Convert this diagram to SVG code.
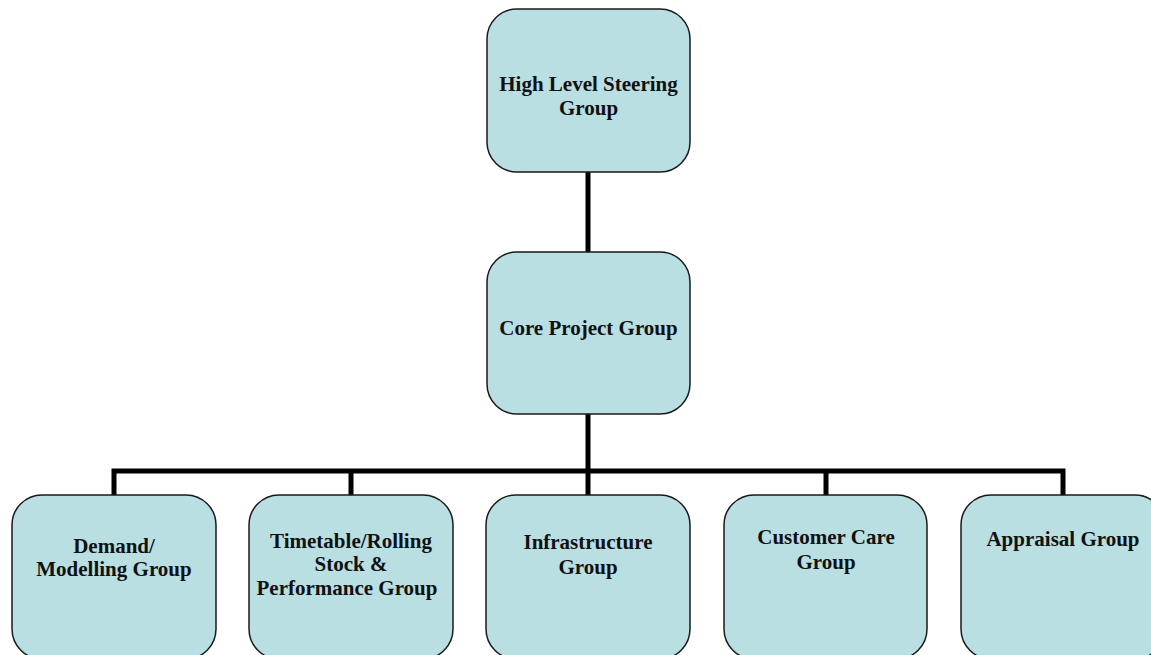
<svg xmlns="http://www.w3.org/2000/svg" width="1151" height="655" viewBox="0 0 1151 655">
<style>
.box{fill:#b9dfe3;stroke:#1a1a1a;stroke-width:1.5}
.lbl{font-family:"Liberation Serif","Times New Roman",serif;font-weight:bold;font-size:21px;fill:#111;text-anchor:middle}
.con{stroke:#000;stroke-width:5;fill:none}
</style>
<rect width="1151" height="655" fill="#fff"/>
<g id="connectors">
<line class="con" x1="588" y1="172" x2="588" y2="252"/>
<line class="con" x1="588" y1="414" x2="588" y2="495"/>
<polyline class="con" points="114,495 114,471 1063,471 1063,495"/>
<line class="con" x1="351" y1="471" x2="351" y2="495"/>
<line class="con" x1="826" y1="471" x2="826" y2="495"/>
</g>
<g id="high-level">
<rect class="box" x="487" y="9" width="203" height="163" rx="30"/>
<text class="lbl" x="588.5" y="91">High Level Steering</text>
<text class="lbl" x="588.5" y="115">Group</text>
</g>
<g id="core">
<rect class="box" x="487" y="252" width="203" height="162" rx="30"/>
<text class="lbl" x="588.5" y="335">Core Project Group</text>
</g>
<g id="demand">
<rect class="box" x="12" y="495" width="204" height="164" rx="30"/>
<text class="lbl" x="114" y="553">Demand/</text>
<text class="lbl" x="114" y="576">Modelling Group</text>
</g>
<g id="timetable">
<rect class="box" x="249" y="495" width="204" height="164" rx="30"/>
<text class="lbl" x="351" y="548">Timetable/Rolling</text>
<text class="lbl" x="351" y="571">Stock &amp;</text>
<text class="lbl" x="347" y="595">Performance Group</text>
</g>
<g id="infrastructure">
<rect class="box" x="486" y="495" width="204" height="164" rx="30"/>
<text class="lbl" x="588" y="549">Infrastructure</text>
<text class="lbl" x="588" y="574">Group</text>
</g>
<g id="customer">
<rect class="box" x="724" y="495" width="203" height="164" rx="30"/>
<text class="lbl" x="826" y="544">Customer Care</text>
<text class="lbl" x="826" y="569">Group</text>
</g>
<g id="appraisal">
<rect class="box" x="961" y="495" width="204" height="164" rx="30"/>
<text class="lbl" x="1063" y="546">Appraisal Group</text>
</g>
</svg>
